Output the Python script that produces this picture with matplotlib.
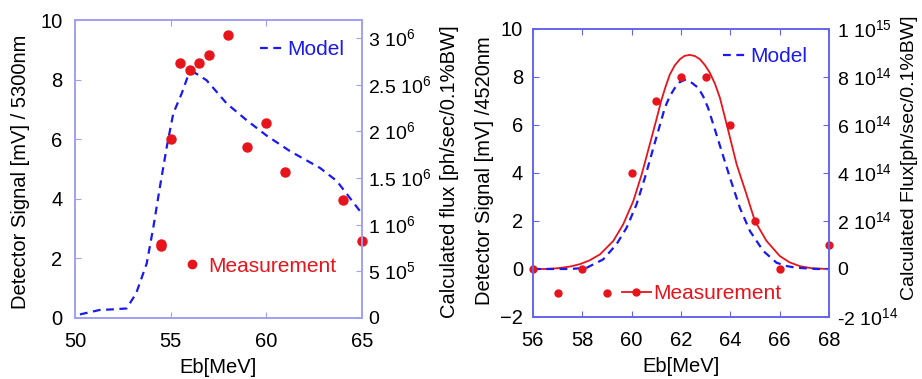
"""Two-panel detector signal vs beam energy, measurement and model."""

import numpy as np
import matplotlib
matplotlib.use('Agg')
import matplotlib.pyplot as plt
from matplotlib.lines import Line2D
from matplotlib.ticker import FixedLocator, FixedFormatter

plt.rcParams['font.family'] = ['Liberation Sans', 'DejaVu Sans']
plt.rcParams['mathtext.fontset'] = 'custom'
plt.rcParams['mathtext.rm'] = 'Liberation Sans'

# ---- left panel data (5300nm) ----
meas1_eb = [54.5, 54.5, 55.0, 55.5, 56.0, 56.5, 57.0, 58.0, 59.0, 60.0, 61.0, 64.0, 65.0]
meas1_sig = [2.5, 2.4, 6.0, 8.57, 8.32, 8.57, 8.83, 9.5, 5.75, 6.53, 4.89, 3.97, 2.6]

model1_eb = [50.26, 51.3, 52.0, 52.7, 53.2, 53.75, 54.1, 54.44, 54.8, 55.14, 55.58,
             55.92, 56.27, 56.88, 57.93, 58.97, 60.0, 61.24, 62.8, 63.68, 64.2, 65.0]
model1_sig = [0.12, 0.27, 0.29, 0.32, 0.83, 1.83, 3.06, 4.4, 5.75, 6.87, 7.54,
              8.15, 8.23, 7.98, 7.2, 6.64, 6.13, 5.6, 5.04, 4.6, 4.17, 3.5]

flux1_ticks = [0, 5e5, 1e6, 1.5e6, 2e6, 2.5e6, 3e6]
flux1_labels = ['0', r'5 10$^5$', r'1 10$^6$', r'1.5 10$^6$', r'2 10$^6$',
                r'2.5 10$^6$', r'3 10$^6$']

# ---- right panel data (4520nm) ----
meas2_eb = [56, 57, 58, 59, 60, 61, 62, 63, 64, 65, 66, 68]
meas2_sig = [0, -1, 0, -1, 4, 7, 8, 8, 6, 2, 0, 1]

fit2_eb = [56.0, 56.5, 57.0, 57.5, 57.9, 58.3, 58.72, 59.26, 59.66, 60.07, 60.41,
           60.74, 61.0, 61.2, 61.38, 61.55, 61.75, 61.96, 62.15, 62.36, 62.57,
           62.77, 62.97, 63.17, 63.38, 63.58, 63.9, 64.26, 64.66, 65.0, 65.47,
           66.01, 66.4, 66.82, 67.3, 68.0]
fit2_sig = [0.0, 0.0, 0.03, 0.1, 0.2, 0.36, 0.61, 1.17, 1.86, 2.83, 3.94,
            5.2, 6.2, 7.0, 7.6, 8.1, 8.48, 8.74, 8.88, 8.92, 8.87,
            8.74, 8.5, 8.18, 7.72, 7.14, 5.85, 4.36, 3.11, 2.0, 1.17,
            0.54, 0.28, 0.12, 0.03, 0.0]

model2_eb = [56.0, 56.5, 57.5, 58.18, 58.85, 59.39, 59.8, 60.2, 60.54, 60.81, 61.08,
             61.35, 61.55, 61.76, 61.95, 62.15, 62.3, 62.45, 62.7, 62.9, 63.1,
             63.44, 63.7, 63.99, 64.39, 64.8, 65.34, 65.88, 66.3, 66.69, 67.5, 68.0]
model2_sig = [0.0, 0.0, 0.0, 0.05, 0.4, 1.03, 1.72, 2.69, 3.8, 4.78, 5.75,
              6.72, 7.2, 7.55, 7.78, 7.88, 7.85, 7.75, 7.55, 7.2, 6.72,
              5.61, 4.75, 3.8, 2.55, 1.58, 0.75, 0.26, 0.12, 0.05, 0.0, 0.0]

flux2_ticks = [-2e14, 0, 2e14, 4e14, 6e14, 8e14, 1e15]
flux2_labels = [r'-2 10$^{14}$', '0', r'2 10$^{14}$', r'4 10$^{14}$',
                r'6 10$^{14}$', r'8 10$^{14}$', r'1 10$^{15}$']

RED = '#e8141c'
BLUE = '#1a1aee'
DASH = (0, (3.5, 2.5))
FS = 14.5

fig = plt.figure(figsize=(9.22, 3.79), dpi=100)


def style_axes(ax, ax2, spine_col, lpad, rpad):
    for a in (ax, ax2):
        for s in a.spines.values():
            s.set_color(spine_col)
            s.set_linewidth(1.2)
    ax.tick_params(direction='in', length=4, color=spine_col, labelsize=FS,
                   top=True, right=False)
    ax.tick_params(axis='x', pad=10)
    ax.tick_params(axis='y', pad=lpad)
    ax2.tick_params(direction='in', length=4, color=spine_col, labelsize=14,
                    pad=rpad)


# ================= left panel =================
ax = fig.add_axes([0.0813, 0.161, 0.3113, 0.786])
ax2 = ax.twinx()
ax.plot(model1_eb, model1_sig, color=BLUE, lw=1.6, ls=DASH)
ax.plot(meas1_eb, meas1_sig, 'o', color=RED, ms=6.5, ls='none', clip_on=False)
ax.set_xlim(50, 65)
ax.set_ylim(0, 10)
ax.set_xticks([50, 55, 60, 65])
ax.set_yticks([0, 2, 4, 6, 8, 10])
ax2.set_ylim(0, 3.19e6)
ax2.yaxis.set_major_locator(FixedLocator(flux1_ticks))
ax2.yaxis.set_major_formatter(FixedFormatter(flux1_labels))
style_axes(ax, ax2, '#a0a0f4', 9, 4.5)
ax.set_xlabel('Eb[MeV]', fontsize=FS, labelpad=5)
fig.text(0.0217, 0.546, 'Detector Signal [mV] / 5300nm', fontsize=FS,
         rotation=90, ha='center', va='center')
fig.text(0.488, 0.546, 'Calculated flux [ph/sec/0.1%BW]', fontsize=FS,
         rotation=90, ha='center', va='center')

h_model = Line2D([], [], color=BLUE, lw=1.6, ls=DASH)
h_meas = Line2D([], [], color=RED, marker='o', ms=6, ls='none')
lg = ax.legend([h_model], ['Model'], loc='center left', bbox_to_anchor=(0.645, 0.90),
               frameon=False, fontsize=15, handlelength=1.1, handletextpad=0.2,
               borderpad=0, borderaxespad=0, labelcolor=BLUE)
ax.add_artist(lg)
ax.legend([h_meas], ['Measurement'], loc='center left', bbox_to_anchor=(0.37, 0.174),
          frameon=False, fontsize=15, handlelength=1.0, handletextpad=0.3,
          borderpad=0, borderaxespad=0, labelcolor=RED)

# ================= right panel =================
bx = fig.add_axes([0.578, 0.1636, 0.321, 0.760])
bx2 = bx.twinx()
bx.plot(fit2_eb, fit2_sig, color=RED, lw=1.3)
bx.plot(model2_eb, model2_sig, color=BLUE, lw=1.6, ls=DASH)
bx.plot(meas2_eb, meas2_sig, 'o', color=RED, ms=5, ls='none', clip_on=False)
bx.set_xlim(56, 68)
bx.set_ylim(-2, 10)
bx.set_xticks(np.arange(56, 69, 2))
bx.set_yticks([-2, 0, 2, 4, 6, 8, 10])
bx2.set_ylim(-2e14, 1e15)
bx2.yaxis.set_major_locator(FixedLocator(flux2_ticks))
bx2.yaxis.set_major_formatter(FixedFormatter(flux2_labels))
style_axes(bx, bx2, '#6464f0', 7, 6)
bx.set_xlabel('Eb[MeV]', fontsize=FS, labelpad=5)
fig.text(0.526, 0.551, 'Detector Signal [mV] /4520nm', fontsize=FS,
         rotation=90, ha='center', va='center')
fig.text(0.986, 0.583, 'Calculated Flux[ph/sec/0.1%BW]', fontsize=14,
         rotation=90, ha='center', va='center')

h_meas2 = Line2D([], [], color=RED, lw=1.3, marker='o', ms=5)
lg2 = bx.legend([h_model], ['Model'], loc='center left', bbox_to_anchor=(0.642, 0.903),
                frameon=False, fontsize=15, handlelength=1.1, handletextpad=0.2,
                borderpad=0, borderaxespad=0, labelcolor=BLUE)
bx.add_artist(lg2)
bx.legend([h_meas2], ['Measurement'], loc='center left', bbox_to_anchor=(0.30, 0.08),
          frameon=False, fontsize=15, handlelength=1.4, handletextpad=0.1,
          borderpad=0, borderaxespad=0, labelcolor=RED)

fig.savefig('out.png', dpi=100)
